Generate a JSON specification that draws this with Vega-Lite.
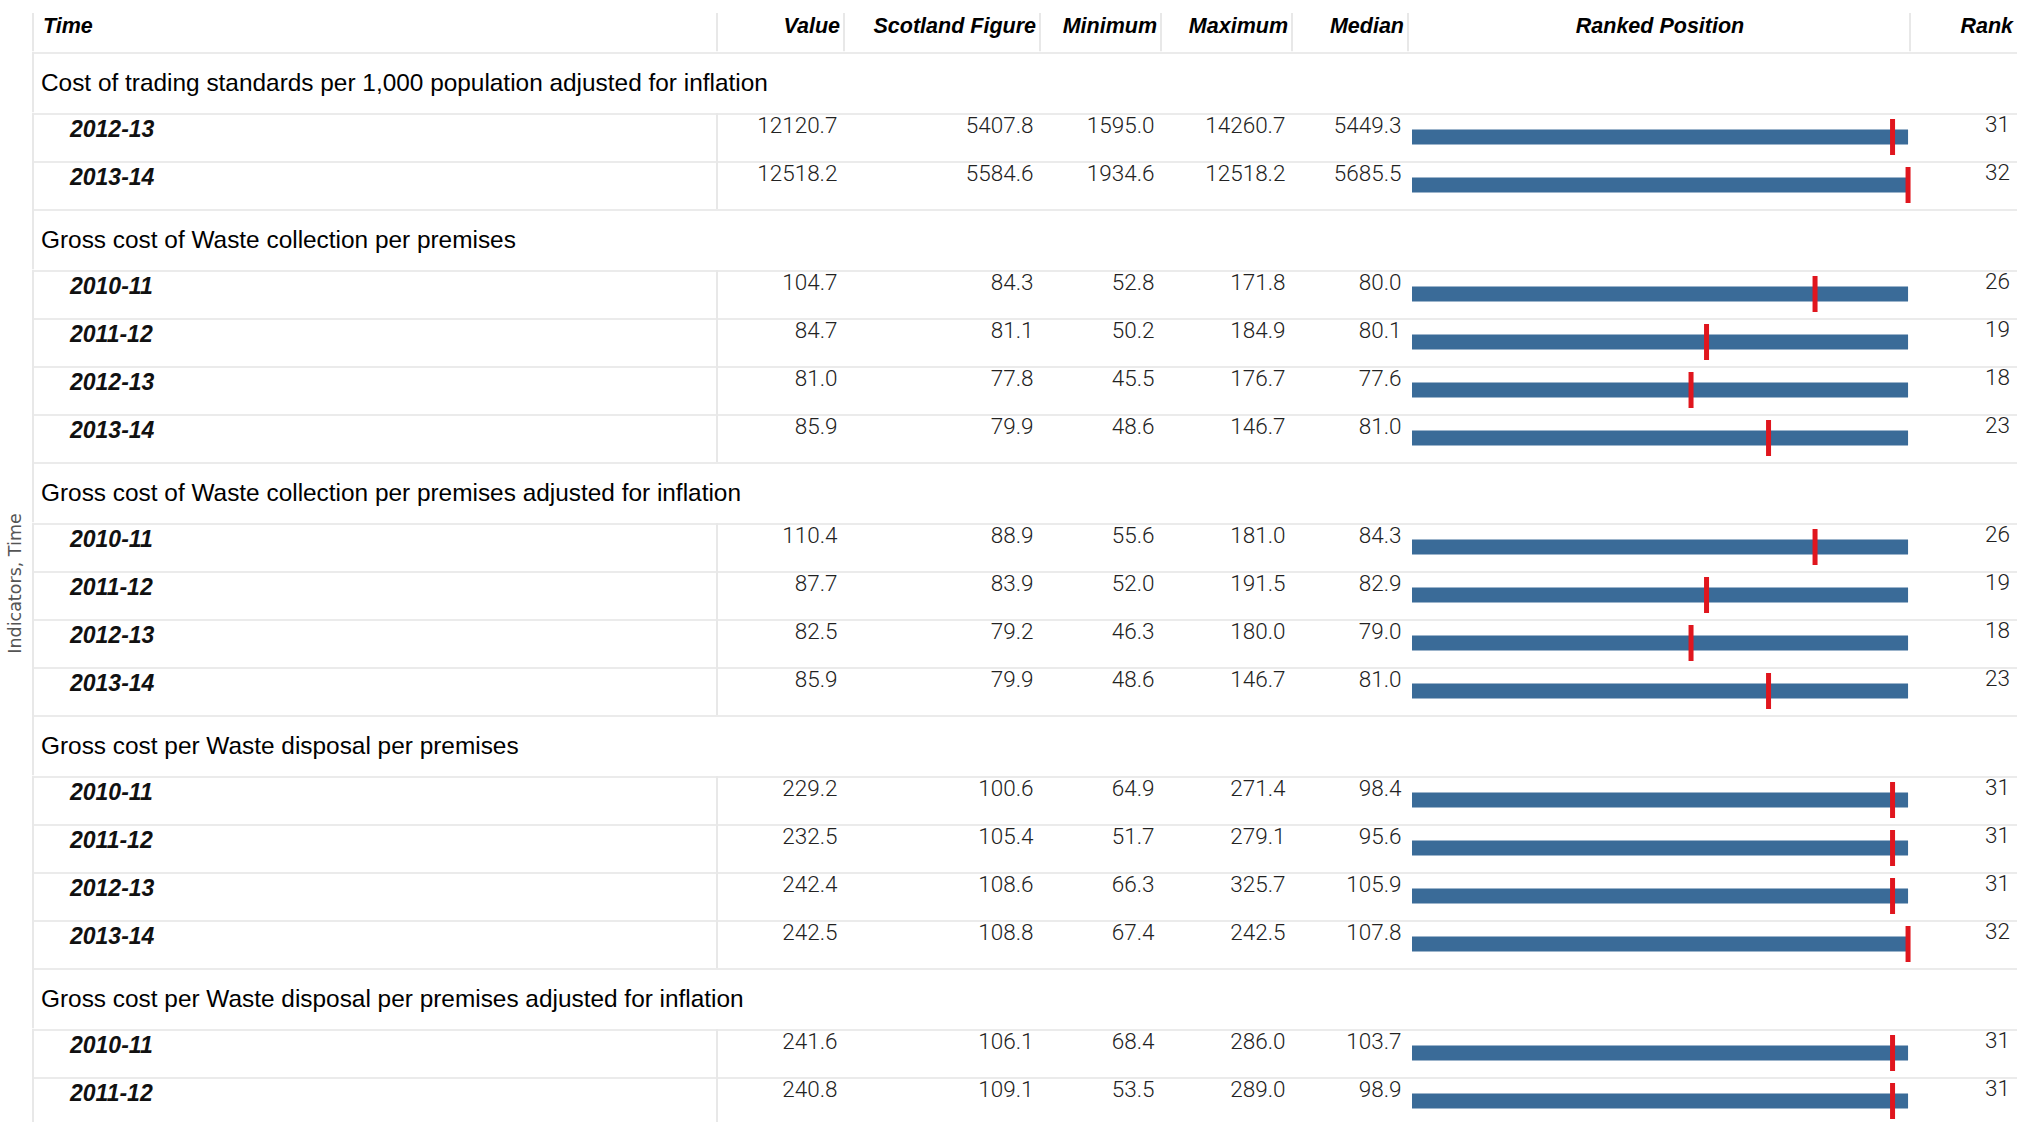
{
"$schema": "https://vega.github.io/schema/vega-lite/v6.json",
"background": "white",
"padding": {"left": 6, "top": 0, "right": 0, "bottom": 0},
"title": {"text": "Indicators, Time", "orient": "left", "anchor": "middle", "font": "DejaVu Sans", "fontSize": 17.5, "fontWeight": "normal", "color": "#555555", "offset": 8, "dx": -21},
"config": {"view": {"stroke": null}},
"data": {"values": [
{"Indicator": "Cost of trading standards per 1,000 population adjusted for inflation", "Time": "2012-13", "Value": 12120.7, "Scotland": 5407.8, "Minimum": 1595.0, "Maximum": 14260.7, "Median": 5449.3, "Rank": 31},
{"Indicator": "Cost of trading standards per 1,000 population adjusted for inflation", "Time": "2013-14", "Value": 12518.2, "Scotland": 5584.6, "Minimum": 1934.6, "Maximum": 12518.2, "Median": 5685.5, "Rank": 32},
{"Indicator": "Gross cost of Waste collection per premises", "Time": "2010-11", "Value": 104.7, "Scotland": 84.3, "Minimum": 52.8, "Maximum": 171.8, "Median": 80.0, "Rank": 26},
{"Indicator": "Gross cost of Waste collection per premises", "Time": "2011-12", "Value": 84.7, "Scotland": 81.1, "Minimum": 50.2, "Maximum": 184.9, "Median": 80.1, "Rank": 19},
{"Indicator": "Gross cost of Waste collection per premises", "Time": "2012-13", "Value": 81.0, "Scotland": 77.8, "Minimum": 45.5, "Maximum": 176.7, "Median": 77.6, "Rank": 18},
{"Indicator": "Gross cost of Waste collection per premises", "Time": "2013-14", "Value": 85.9, "Scotland": 79.9, "Minimum": 48.6, "Maximum": 146.7, "Median": 81.0, "Rank": 23},
{"Indicator": "Gross cost of Waste collection per premises adjusted for inflation", "Time": "2010-11", "Value": 110.4, "Scotland": 88.9, "Minimum": 55.6, "Maximum": 181.0, "Median": 84.3, "Rank": 26},
{"Indicator": "Gross cost of Waste collection per premises adjusted for inflation", "Time": "2011-12", "Value": 87.7, "Scotland": 83.9, "Minimum": 52.0, "Maximum": 191.5, "Median": 82.9, "Rank": 19},
{"Indicator": "Gross cost of Waste collection per premises adjusted for inflation", "Time": "2012-13", "Value": 82.5, "Scotland": 79.2, "Minimum": 46.3, "Maximum": 180.0, "Median": 79.0, "Rank": 18},
{"Indicator": "Gross cost of Waste collection per premises adjusted for inflation", "Time": "2013-14", "Value": 85.9, "Scotland": 79.9, "Minimum": 48.6, "Maximum": 146.7, "Median": 81.0, "Rank": 23},
{"Indicator": "Gross cost per Waste disposal per premises", "Time": "2010-11", "Value": 229.2, "Scotland": 100.6, "Minimum": 64.9, "Maximum": 271.4, "Median": 98.4, "Rank": 31},
{"Indicator": "Gross cost per Waste disposal per premises", "Time": "2011-12", "Value": 232.5, "Scotland": 105.4, "Minimum": 51.7, "Maximum": 279.1, "Median": 95.6, "Rank": 31},
{"Indicator": "Gross cost per Waste disposal per premises", "Time": "2012-13", "Value": 242.4, "Scotland": 108.6, "Minimum": 66.3, "Maximum": 325.7, "Median": 105.9, "Rank": 31},
{"Indicator": "Gross cost per Waste disposal per premises", "Time": "2013-14", "Value": 242.5, "Scotland": 108.8, "Minimum": 67.4, "Maximum": 242.5, "Median": 107.8, "Rank": 32},
{"Indicator": "Gross cost per Waste disposal per premises adjusted for inflation", "Time": "2010-11", "Value": 241.6, "Scotland": 106.1, "Minimum": 68.4, "Maximum": 286.0, "Median": 103.7, "Rank": 31},
{"Indicator": "Gross cost per Waste disposal per premises adjusted for inflation", "Time": "2011-12", "Value": 240.8, "Scotland": 109.1, "Minimum": 53.5, "Maximum": 289.0, "Median": 98.9, "Rank": 31}
]},
"spacing": 0,
"vconcat": [
{"data": {"values": [{"h": 1}]}, "spacing": 0, "bounds": "flush", "hconcat": [
 {"width": 686, "height": 51.5, "layer": [
  {"mark": {"type": "rule", "color": "#e8e8e8", "strokeWidth": 2, "xOffset": 1, "clip": true}, "encoding": {"x": {"datum": 0, "type": "quantitative", "scale": {"domain": [0, 1]}, "axis": null}, "y": {"datum": 0, "type": "quantitative", "scale": {"domain": [0, 1]}, "axis": null}, "y2": {"datum": 0.75}}},
  {"mark": {"type": "rule", "color": "#e8e8e8", "strokeWidth": 2, "xOffset": -1, "clip": true}, "encoding": {"x": {"datum": 1, "type": "quantitative", "scale": {"domain": [0, 1]}, "axis": null}, "y": {"datum": 0, "type": "quantitative", "scale": {"domain": [0, 1]}, "axis": null}, "y2": {"datum": 0.75}}},
  {"mark": {"type": "text", "text": "Time", "align": "left", "baseline": "alphabetic", "dx": 11, "dy": 7.25, "font": "Liberation Sans", "fontSize": 21.5, "fontWeight": "bold", "fontStyle": "italic", "color": "#000000"}, "encoding": {"x": {"datum": 0, "type": "quantitative", "scale": {"domain": [0, 1]}, "axis": null}}}
 ]},
 {"width": 127, "height": 51.5, "layer": [
  {"mark": {"type": "rule", "color": "#e8e8e8", "strokeWidth": 2, "xOffset": -1, "clip": true}, "encoding": {"x": {"datum": 1, "type": "quantitative", "scale": {"domain": [0, 1]}, "axis": null}, "y": {"datum": 0, "type": "quantitative", "scale": {"domain": [0, 1]}, "axis": null}, "y2": {"datum": 0.75}}},
  {"mark": {"type": "text", "text": "Value", "align": "right", "baseline": "alphabetic", "dx": -5, "dy": 7.25, "font": "Liberation Sans", "fontSize": 21.5, "fontWeight": "bold", "fontStyle": "italic", "color": "#000000"}, "encoding": {"x": {"datum": 1, "type": "quantitative", "scale": {"domain": [0, 1]}, "axis": null}}}
 ]},
 {"width": 196, "height": 51.5, "layer": [
  {"mark": {"type": "rule", "color": "#e8e8e8", "strokeWidth": 2, "xOffset": -1, "clip": true}, "encoding": {"x": {"datum": 1, "type": "quantitative", "scale": {"domain": [0, 1]}, "axis": null}, "y": {"datum": 0, "type": "quantitative", "scale": {"domain": [0, 1]}, "axis": null}, "y2": {"datum": 0.75}}},
  {"mark": {"type": "text", "text": "Scotland Figure", "align": "right", "baseline": "alphabetic", "dx": -5, "dy": 7.25, "font": "Liberation Sans", "fontSize": 21.5, "fontWeight": "bold", "fontStyle": "italic", "color": "#000000"}, "encoding": {"x": {"datum": 1, "type": "quantitative", "scale": {"domain": [0, 1]}, "axis": null}}}
 ]},
 {"width": 121, "height": 51.5, "layer": [
  {"mark": {"type": "rule", "color": "#e8e8e8", "strokeWidth": 2, "xOffset": -1, "clip": true}, "encoding": {"x": {"datum": 1, "type": "quantitative", "scale": {"domain": [0, 1]}, "axis": null}, "y": {"datum": 0, "type": "quantitative", "scale": {"domain": [0, 1]}, "axis": null}, "y2": {"datum": 0.75}}},
  {"mark": {"type": "text", "text": "Minimum", "align": "right", "baseline": "alphabetic", "dx": -5, "dy": 7.25, "font": "Liberation Sans", "fontSize": 21.5, "fontWeight": "bold", "fontStyle": "italic", "color": "#000000"}, "encoding": {"x": {"datum": 1, "type": "quantitative", "scale": {"domain": [0, 1]}, "axis": null}}}
 ]},
 {"width": 131, "height": 51.5, "layer": [
  {"mark": {"type": "rule", "color": "#e8e8e8", "strokeWidth": 2, "xOffset": -1, "clip": true}, "encoding": {"x": {"datum": 1, "type": "quantitative", "scale": {"domain": [0, 1]}, "axis": null}, "y": {"datum": 0, "type": "quantitative", "scale": {"domain": [0, 1]}, "axis": null}, "y2": {"datum": 0.75}}},
  {"mark": {"type": "text", "text": "Maximum", "align": "right", "baseline": "alphabetic", "dx": -5, "dy": 7.25, "font": "Liberation Sans", "fontSize": 21.5, "fontWeight": "bold", "fontStyle": "italic", "color": "#000000"}, "encoding": {"x": {"datum": 1, "type": "quantitative", "scale": {"domain": [0, 1]}, "axis": null}}}
 ]},
 {"width": 116, "height": 51.5, "layer": [
  {"mark": {"type": "rule", "color": "#e8e8e8", "strokeWidth": 2, "xOffset": -1, "clip": true}, "encoding": {"x": {"datum": 1, "type": "quantitative", "scale": {"domain": [0, 1]}, "axis": null}, "y": {"datum": 0, "type": "quantitative", "scale": {"domain": [0, 1]}, "axis": null}, "y2": {"datum": 0.75}}},
  {"mark": {"type": "text", "text": "Median", "align": "right", "baseline": "alphabetic", "dx": -5, "dy": 7.25, "font": "Liberation Sans", "fontSize": 21.5, "fontWeight": "bold", "fontStyle": "italic", "color": "#000000"}, "encoding": {"x": {"datum": 1, "type": "quantitative", "scale": {"domain": [0, 1]}, "axis": null}}}
 ]},
 {"width": 502, "height": 51.5, "layer": [
  {"mark": {"type": "rule", "color": "#e8e8e8", "strokeWidth": 2, "xOffset": -1, "clip": true}, "encoding": {"x": {"datum": 1, "type": "quantitative", "scale": {"domain": [0, 1]}, "axis": null}, "y": {"datum": 0, "type": "quantitative", "scale": {"domain": [0, 1]}, "axis": null}, "y2": {"datum": 0.75}}},
  {"mark": {"type": "text", "text": "Ranked Position", "align": "center", "baseline": "alphabetic", "dy": 7.25, "font": "Liberation Sans", "fontSize": 21.5, "fontWeight": "bold", "fontStyle": "italic", "color": "#000000"}, "encoding": {"x": {"datum": 0.5, "type": "quantitative", "scale": {"domain": [0, 1]}, "axis": null}}}
 ]},
 {"width": 106, "height": 51.5, "layer": [
  {"mark": {"type": "text", "text": "Rank", "align": "right", "baseline": "alphabetic", "dx": -4, "dy": 7.25, "font": "Liberation Sans", "fontSize": 21.5, "fontWeight": "bold", "fontStyle": "italic", "color": "#000000"}, "encoding": {"x": {"datum": 1, "type": "quantitative", "scale": {"domain": [0, 1]}, "axis": null}}}
 ]}
]},

{"width": 1985, "height": 60.5, "transform": [{"filter": {"field": "Indicator", "equal": "Cost of trading standards per 1,000 population adjusted for inflation"}}, {"aggregate": [{"op": "count", "as": "n"}], "groupby": ["Indicator"]}], "layer": [
 {"mark": {"type": "rule", "color": "#ebebeb", "strokeWidth": 2, "yOffset": 1, "clip": true}, "encoding": {"y": {"datum": 1, "type": "quantitative", "scale": {"domain": [0, 1]}, "axis": null}}},
 {"mark": {"type": "rule", "color": "#e8e8e8", "strokeWidth": 2, "xOffset": 1, "clip": true}, "encoding": {"x": {"datum": 0, "type": "quantitative", "scale": {"domain": [0, 1]}, "axis": null}}},
 {"mark": {"type": "text", "align": "left", "baseline": "alphabetic", "dx": 9, "dy": 8.5, "font": "Liberation Sans", "fontSize": 24.4, "color": "#000000"}, "encoding": {"x": {"datum": 0, "type": "quantitative", "scale": {"domain": [0, 1]}, "axis": null}, "text": {"field": "Indicator"}}}
]},
{"transform": [{"filter": {"field": "Indicator", "equal": "Cost of trading standards per 1,000 population adjusted for inflation"}}], "spacing": 0, "bounds": "flush", "hconcat": [
 {"width": 686, "height": 96, "layer": [
  {"mark": {"type": "rule", "color": "#ebebeb", "strokeWidth": 2, "yOffset": 1, "clip": true}, "encoding": {"y": {"field": "Time", "type": "nominal", "bandPosition": 0, "scale": {"type": "band", "paddingInner": 0, "paddingOuter": 0}, "axis": null}}},
  {"mark": {"type": "rule", "color": "#e8e8e8", "strokeWidth": 2, "xOffset": 1, "clip": true}, "encoding": {"x": {"datum": 0, "type": "quantitative", "scale": {"domain": [0, 1]}, "axis": null}}},
  {"mark": {"type": "rule", "color": "#e8e8e8", "strokeWidth": 2, "xOffset": -1, "clip": true}, "encoding": {"x": {"datum": 1, "type": "quantitative", "scale": {"domain": [0, 1]}, "axis": null}}},
  {"mark": {"type": "text", "align": "left", "baseline": "alphabetic", "dx": 38, "dy": 24, "font": "Liberation Sans", "fontSize": 23, "fontWeight": "bold", "fontStyle": "italic", "color": "#111111"}, "encoding": {"x": {"datum": 0, "type": "quantitative", "scale": {"domain": [0, 1]}, "axis": null}, "y": {"field": "Time", "type": "nominal", "bandPosition": 0, "scale": {"type": "band", "paddingInner": 0, "paddingOuter": 0}, "axis": null}, "text": {"field": "Time"}}}
 ]},
 {"width": 127, "height": 96, "layer": [
  {"mark": {"type": "rule", "color": "#ebebeb", "strokeWidth": 2, "yOffset": 1, "clip": true}, "encoding": {"y": {"field": "Time", "type": "nominal", "bandPosition": 0, "scale": {"type": "band", "paddingInner": 0, "paddingOuter": 0}, "axis": null}}},
  {"mark": {"type": "text", "align": "right", "baseline": "alphabetic", "dx": -7.5, "dy": 20, "font": "Roboto", "fontWeight": 300, "fontSize": 22.5, "color": "#222222"}, "encoding": {"x": {"datum": 1, "type": "quantitative", "scale": {"domain": [0, 1]}, "axis": null}, "y": {"field": "Time", "type": "nominal", "bandPosition": 0, "scale": {"type": "band", "paddingInner": 0, "paddingOuter": 0}, "axis": null}, "text": {"field": "Value", "type": "quantitative", "format": ".1f"}}}
 ]},
 {"width": 196, "height": 96, "layer": [
  {"mark": {"type": "rule", "color": "#ebebeb", "strokeWidth": 2, "yOffset": 1, "clip": true}, "encoding": {"y": {"field": "Time", "type": "nominal", "bandPosition": 0, "scale": {"type": "band", "paddingInner": 0, "paddingOuter": 0}, "axis": null}}},
  {"mark": {"type": "text", "align": "right", "baseline": "alphabetic", "dx": -7.5, "dy": 20, "font": "Roboto", "fontWeight": 300, "fontSize": 22.5, "color": "#222222"}, "encoding": {"x": {"datum": 1, "type": "quantitative", "scale": {"domain": [0, 1]}, "axis": null}, "y": {"field": "Time", "type": "nominal", "bandPosition": 0, "scale": {"type": "band", "paddingInner": 0, "paddingOuter": 0}, "axis": null}, "text": {"field": "Scotland", "type": "quantitative", "format": ".1f"}}}
 ]},
 {"width": 121, "height": 96, "layer": [
  {"mark": {"type": "rule", "color": "#ebebeb", "strokeWidth": 2, "yOffset": 1, "clip": true}, "encoding": {"y": {"field": "Time", "type": "nominal", "bandPosition": 0, "scale": {"type": "band", "paddingInner": 0, "paddingOuter": 0}, "axis": null}}},
  {"mark": {"type": "text", "align": "right", "baseline": "alphabetic", "dx": -7.5, "dy": 20, "font": "Roboto", "fontWeight": 300, "fontSize": 22.5, "color": "#222222"}, "encoding": {"x": {"datum": 1, "type": "quantitative", "scale": {"domain": [0, 1]}, "axis": null}, "y": {"field": "Time", "type": "nominal", "bandPosition": 0, "scale": {"type": "band", "paddingInner": 0, "paddingOuter": 0}, "axis": null}, "text": {"field": "Minimum", "type": "quantitative", "format": ".1f"}}}
 ]},
 {"width": 131, "height": 96, "layer": [
  {"mark": {"type": "rule", "color": "#ebebeb", "strokeWidth": 2, "yOffset": 1, "clip": true}, "encoding": {"y": {"field": "Time", "type": "nominal", "bandPosition": 0, "scale": {"type": "band", "paddingInner": 0, "paddingOuter": 0}, "axis": null}}},
  {"mark": {"type": "text", "align": "right", "baseline": "alphabetic", "dx": -7.5, "dy": 20, "font": "Roboto", "fontWeight": 300, "fontSize": 22.5, "color": "#222222"}, "encoding": {"x": {"datum": 1, "type": "quantitative", "scale": {"domain": [0, 1]}, "axis": null}, "y": {"field": "Time", "type": "nominal", "bandPosition": 0, "scale": {"type": "band", "paddingInner": 0, "paddingOuter": 0}, "axis": null}, "text": {"field": "Maximum", "type": "quantitative", "format": ".1f"}}}
 ]},
 {"width": 116, "height": 96, "layer": [
  {"mark": {"type": "rule", "color": "#ebebeb", "strokeWidth": 2, "yOffset": 1, "clip": true}, "encoding": {"y": {"field": "Time", "type": "nominal", "bandPosition": 0, "scale": {"type": "band", "paddingInner": 0, "paddingOuter": 0}, "axis": null}}},
  {"mark": {"type": "text", "align": "right", "baseline": "alphabetic", "dx": -7.5, "dy": 20, "font": "Roboto", "fontWeight": 300, "fontSize": 22.5, "color": "#222222"}, "encoding": {"x": {"datum": 1, "type": "quantitative", "scale": {"domain": [0, 1]}, "axis": null}, "y": {"field": "Time", "type": "nominal", "bandPosition": 0, "scale": {"type": "band", "paddingInner": 0, "paddingOuter": 0}, "axis": null}, "text": {"field": "Median", "type": "quantitative", "format": ".1f"}}}
 ]},
 {"width": 502, "height": 96, "layer": [
  {"mark": {"type": "rule", "color": "#ebebeb", "strokeWidth": 2, "yOffset": 1, "clip": true}, "encoding": {"y": {"field": "Time", "type": "nominal", "bandPosition": 0, "scale": {"type": "band", "paddingInner": 0, "paddingOuter": 0}, "axis": null}}},
  {"mark": {"type": "bar", "color": "#3a6b98", "height": 15}, "encoding": {"x": {"datum": 32, "type": "quantitative", "scale": {"domain": [-0.194, 32.19], "nice": false, "zero": false}, "axis": null}, "x2": {"datum": 0}, "y": {"field": "Time", "type": "nominal", "scale": {"type": "band", "paddingInner": 0, "paddingOuter": 0}, "axis": null}}},
  {"mark": {"type": "tick", "orient": "vertical", "color": "#e0161e", "thickness": 5, "size": 36, "opacity": 1}, "encoding": {"x": {"field": "Rank", "type": "quantitative", "scale": {"domain": [-0.194, 32.19], "nice": false, "zero": false}, "axis": null}, "y": {"field": "Time", "type": "nominal", "scale": {"type": "band", "paddingInner": 0, "paddingOuter": 0}, "axis": null}}}
 ]},
 {"width": 106, "height": 96, "layer": [
  {"mark": {"type": "rule", "color": "#ebebeb", "strokeWidth": 2, "yOffset": 1, "clip": true}, "encoding": {"y": {"field": "Time", "type": "nominal", "bandPosition": 0, "scale": {"type": "band", "paddingInner": 0, "paddingOuter": 0}, "axis": null}}},
  {"mark": {"type": "text", "align": "right", "baseline": "alphabetic", "dx": -7, "dy": 19, "font": "Roboto", "fontWeight": 300, "fontSize": 22.5, "color": "#222222"}, "encoding": {"x": {"datum": 1, "type": "quantitative", "scale": {"domain": [0, 1]}, "axis": null}, "y": {"field": "Time", "type": "nominal", "bandPosition": 0, "scale": {"type": "band", "paddingInner": 0, "paddingOuter": 0}, "axis": null}, "text": {"field": "Rank", "type": "quantitative", "format": "d"}}}
 ]}
]},

{"width": 1985, "height": 60.5, "transform": [{"filter": {"field": "Indicator", "equal": "Gross cost of Waste collection per premises"}}, {"aggregate": [{"op": "count", "as": "n"}], "groupby": ["Indicator"]}], "layer": [
 {"mark": {"type": "rule", "color": "#ebebeb", "strokeWidth": 2, "yOffset": 1, "clip": true}, "encoding": {"y": {"datum": 1, "type": "quantitative", "scale": {"domain": [0, 1]}, "axis": null}}},
 {"mark": {"type": "rule", "color": "#e8e8e8", "strokeWidth": 2, "xOffset": 1, "clip": true}, "encoding": {"x": {"datum": 0, "type": "quantitative", "scale": {"domain": [0, 1]}, "axis": null}}},
 {"mark": {"type": "text", "align": "left", "baseline": "alphabetic", "dx": 9, "dy": 8.5, "font": "Liberation Sans", "fontSize": 24.4, "color": "#000000"}, "encoding": {"x": {"datum": 0, "type": "quantitative", "scale": {"domain": [0, 1]}, "axis": null}, "text": {"field": "Indicator"}}}
]},
{"transform": [{"filter": {"field": "Indicator", "equal": "Gross cost of Waste collection per premises"}}], "spacing": 0, "bounds": "flush", "hconcat": [
 {"width": 686, "height": 192, "layer": [
  {"mark": {"type": "rule", "color": "#ebebeb", "strokeWidth": 2, "yOffset": 1, "clip": true}, "encoding": {"y": {"field": "Time", "type": "nominal", "bandPosition": 0, "scale": {"type": "band", "paddingInner": 0, "paddingOuter": 0}, "axis": null}}},
  {"mark": {"type": "rule", "color": "#e8e8e8", "strokeWidth": 2, "xOffset": 1, "clip": true}, "encoding": {"x": {"datum": 0, "type": "quantitative", "scale": {"domain": [0, 1]}, "axis": null}}},
  {"mark": {"type": "rule", "color": "#e8e8e8", "strokeWidth": 2, "xOffset": -1, "clip": true}, "encoding": {"x": {"datum": 1, "type": "quantitative", "scale": {"domain": [0, 1]}, "axis": null}}},
  {"mark": {"type": "text", "align": "left", "baseline": "alphabetic", "dx": 38, "dy": 24, "font": "Liberation Sans", "fontSize": 23, "fontWeight": "bold", "fontStyle": "italic", "color": "#111111"}, "encoding": {"x": {"datum": 0, "type": "quantitative", "scale": {"domain": [0, 1]}, "axis": null}, "y": {"field": "Time", "type": "nominal", "bandPosition": 0, "scale": {"type": "band", "paddingInner": 0, "paddingOuter": 0}, "axis": null}, "text": {"field": "Time"}}}
 ]},
 {"width": 127, "height": 192, "layer": [
  {"mark": {"type": "rule", "color": "#ebebeb", "strokeWidth": 2, "yOffset": 1, "clip": true}, "encoding": {"y": {"field": "Time", "type": "nominal", "bandPosition": 0, "scale": {"type": "band", "paddingInner": 0, "paddingOuter": 0}, "axis": null}}},
  {"mark": {"type": "text", "align": "right", "baseline": "alphabetic", "dx": -7.5, "dy": 20, "font": "Roboto", "fontWeight": 300, "fontSize": 22.5, "color": "#222222"}, "encoding": {"x": {"datum": 1, "type": "quantitative", "scale": {"domain": [0, 1]}, "axis": null}, "y": {"field": "Time", "type": "nominal", "bandPosition": 0, "scale": {"type": "band", "paddingInner": 0, "paddingOuter": 0}, "axis": null}, "text": {"field": "Value", "type": "quantitative", "format": ".1f"}}}
 ]},
 {"width": 196, "height": 192, "layer": [
  {"mark": {"type": "rule", "color": "#ebebeb", "strokeWidth": 2, "yOffset": 1, "clip": true}, "encoding": {"y": {"field": "Time", "type": "nominal", "bandPosition": 0, "scale": {"type": "band", "paddingInner": 0, "paddingOuter": 0}, "axis": null}}},
  {"mark": {"type": "text", "align": "right", "baseline": "alphabetic", "dx": -7.5, "dy": 20, "font": "Roboto", "fontWeight": 300, "fontSize": 22.5, "color": "#222222"}, "encoding": {"x": {"datum": 1, "type": "quantitative", "scale": {"domain": [0, 1]}, "axis": null}, "y": {"field": "Time", "type": "nominal", "bandPosition": 0, "scale": {"type": "band", "paddingInner": 0, "paddingOuter": 0}, "axis": null}, "text": {"field": "Scotland", "type": "quantitative", "format": ".1f"}}}
 ]},
 {"width": 121, "height": 192, "layer": [
  {"mark": {"type": "rule", "color": "#ebebeb", "strokeWidth": 2, "yOffset": 1, "clip": true}, "encoding": {"y": {"field": "Time", "type": "nominal", "bandPosition": 0, "scale": {"type": "band", "paddingInner": 0, "paddingOuter": 0}, "axis": null}}},
  {"mark": {"type": "text", "align": "right", "baseline": "alphabetic", "dx": -7.5, "dy": 20, "font": "Roboto", "fontWeight": 300, "fontSize": 22.5, "color": "#222222"}, "encoding": {"x": {"datum": 1, "type": "quantitative", "scale": {"domain": [0, 1]}, "axis": null}, "y": {"field": "Time", "type": "nominal", "bandPosition": 0, "scale": {"type": "band", "paddingInner": 0, "paddingOuter": 0}, "axis": null}, "text": {"field": "Minimum", "type": "quantitative", "format": ".1f"}}}
 ]},
 {"width": 131, "height": 192, "layer": [
  {"mark": {"type": "rule", "color": "#ebebeb", "strokeWidth": 2, "yOffset": 1, "clip": true}, "encoding": {"y": {"field": "Time", "type": "nominal", "bandPosition": 0, "scale": {"type": "band", "paddingInner": 0, "paddingOuter": 0}, "axis": null}}},
  {"mark": {"type": "text", "align": "right", "baseline": "alphabetic", "dx": -7.5, "dy": 20, "font": "Roboto", "fontWeight": 300, "fontSize": 22.5, "color": "#222222"}, "encoding": {"x": {"datum": 1, "type": "quantitative", "scale": {"domain": [0, 1]}, "axis": null}, "y": {"field": "Time", "type": "nominal", "bandPosition": 0, "scale": {"type": "band", "paddingInner": 0, "paddingOuter": 0}, "axis": null}, "text": {"field": "Maximum", "type": "quantitative", "format": ".1f"}}}
 ]},
 {"width": 116, "height": 192, "layer": [
  {"mark": {"type": "rule", "color": "#ebebeb", "strokeWidth": 2, "yOffset": 1, "clip": true}, "encoding": {"y": {"field": "Time", "type": "nominal", "bandPosition": 0, "scale": {"type": "band", "paddingInner": 0, "paddingOuter": 0}, "axis": null}}},
  {"mark": {"type": "text", "align": "right", "baseline": "alphabetic", "dx": -7.5, "dy": 20, "font": "Roboto", "fontWeight": 300, "fontSize": 22.5, "color": "#222222"}, "encoding": {"x": {"datum": 1, "type": "quantitative", "scale": {"domain": [0, 1]}, "axis": null}, "y": {"field": "Time", "type": "nominal", "bandPosition": 0, "scale": {"type": "band", "paddingInner": 0, "paddingOuter": 0}, "axis": null}, "text": {"field": "Median", "type": "quantitative", "format": ".1f"}}}
 ]},
 {"width": 502, "height": 192, "layer": [
  {"mark": {"type": "rule", "color": "#ebebeb", "strokeWidth": 2, "yOffset": 1, "clip": true}, "encoding": {"y": {"field": "Time", "type": "nominal", "bandPosition": 0, "scale": {"type": "band", "paddingInner": 0, "paddingOuter": 0}, "axis": null}}},
  {"mark": {"type": "bar", "color": "#3a6b98", "height": 15}, "encoding": {"x": {"datum": 32, "type": "quantitative", "scale": {"domain": [-0.194, 32.19], "nice": false, "zero": false}, "axis": null}, "x2": {"datum": 0}, "y": {"field": "Time", "type": "nominal", "scale": {"type": "band", "paddingInner": 0, "paddingOuter": 0}, "axis": null}}},
  {"mark": {"type": "tick", "orient": "vertical", "color": "#e0161e", "thickness": 5, "size": 36, "opacity": 1}, "encoding": {"x": {"field": "Rank", "type": "quantitative", "scale": {"domain": [-0.194, 32.19], "nice": false, "zero": false}, "axis": null}, "y": {"field": "Time", "type": "nominal", "scale": {"type": "band", "paddingInner": 0, "paddingOuter": 0}, "axis": null}}}
 ]},
 {"width": 106, "height": 192, "layer": [
  {"mark": {"type": "rule", "color": "#ebebeb", "strokeWidth": 2, "yOffset": 1, "clip": true}, "encoding": {"y": {"field": "Time", "type": "nominal", "bandPosition": 0, "scale": {"type": "band", "paddingInner": 0, "paddingOuter": 0}, "axis": null}}},
  {"mark": {"type": "text", "align": "right", "baseline": "alphabetic", "dx": -7, "dy": 19, "font": "Roboto", "fontWeight": 300, "fontSize": 22.5, "color": "#222222"}, "encoding": {"x": {"datum": 1, "type": "quantitative", "scale": {"domain": [0, 1]}, "axis": null}, "y": {"field": "Time", "type": "nominal", "bandPosition": 0, "scale": {"type": "band", "paddingInner": 0, "paddingOuter": 0}, "axis": null}, "text": {"field": "Rank", "type": "quantitative", "format": "d"}}}
 ]}
]},

{"width": 1985, "height": 60.5, "transform": [{"filter": {"field": "Indicator", "equal": "Gross cost of Waste collection per premises adjusted for inflation"}}, {"aggregate": [{"op": "count", "as": "n"}], "groupby": ["Indicator"]}], "layer": [
 {"mark": {"type": "rule", "color": "#ebebeb", "strokeWidth": 2, "yOffset": 1, "clip": true}, "encoding": {"y": {"datum": 1, "type": "quantitative", "scale": {"domain": [0, 1]}, "axis": null}}},
 {"mark": {"type": "rule", "color": "#e8e8e8", "strokeWidth": 2, "xOffset": 1, "clip": true}, "encoding": {"x": {"datum": 0, "type": "quantitative", "scale": {"domain": [0, 1]}, "axis": null}}},
 {"mark": {"type": "text", "align": "left", "baseline": "alphabetic", "dx": 9, "dy": 8.5, "font": "Liberation Sans", "fontSize": 24.4, "color": "#000000"}, "encoding": {"x": {"datum": 0, "type": "quantitative", "scale": {"domain": [0, 1]}, "axis": null}, "text": {"field": "Indicator"}}}
]},
{"transform": [{"filter": {"field": "Indicator", "equal": "Gross cost of Waste collection per premises adjusted for inflation"}}], "spacing": 0, "bounds": "flush", "hconcat": [
 {"width": 686, "height": 192, "layer": [
  {"mark": {"type": "rule", "color": "#ebebeb", "strokeWidth": 2, "yOffset": 1, "clip": true}, "encoding": {"y": {"field": "Time", "type": "nominal", "bandPosition": 0, "scale": {"type": "band", "paddingInner": 0, "paddingOuter": 0}, "axis": null}}},
  {"mark": {"type": "rule", "color": "#e8e8e8", "strokeWidth": 2, "xOffset": 1, "clip": true}, "encoding": {"x": {"datum": 0, "type": "quantitative", "scale": {"domain": [0, 1]}, "axis": null}}},
  {"mark": {"type": "rule", "color": "#e8e8e8", "strokeWidth": 2, "xOffset": -1, "clip": true}, "encoding": {"x": {"datum": 1, "type": "quantitative", "scale": {"domain": [0, 1]}, "axis": null}}},
  {"mark": {"type": "text", "align": "left", "baseline": "alphabetic", "dx": 38, "dy": 24, "font": "Liberation Sans", "fontSize": 23, "fontWeight": "bold", "fontStyle": "italic", "color": "#111111"}, "encoding": {"x": {"datum": 0, "type": "quantitative", "scale": {"domain": [0, 1]}, "axis": null}, "y": {"field": "Time", "type": "nominal", "bandPosition": 0, "scale": {"type": "band", "paddingInner": 0, "paddingOuter": 0}, "axis": null}, "text": {"field": "Time"}}}
 ]},
 {"width": 127, "height": 192, "layer": [
  {"mark": {"type": "rule", "color": "#ebebeb", "strokeWidth": 2, "yOffset": 1, "clip": true}, "encoding": {"y": {"field": "Time", "type": "nominal", "bandPosition": 0, "scale": {"type": "band", "paddingInner": 0, "paddingOuter": 0}, "axis": null}}},
  {"mark": {"type": "text", "align": "right", "baseline": "alphabetic", "dx": -7.5, "dy": 20, "font": "Roboto", "fontWeight": 300, "fontSize": 22.5, "color": "#222222"}, "encoding": {"x": {"datum": 1, "type": "quantitative", "scale": {"domain": [0, 1]}, "axis": null}, "y": {"field": "Time", "type": "nominal", "bandPosition": 0, "scale": {"type": "band", "paddingInner": 0, "paddingOuter": 0}, "axis": null}, "text": {"field": "Value", "type": "quantitative", "format": ".1f"}}}
 ]},
 {"width": 196, "height": 192, "layer": [
  {"mark": {"type": "rule", "color": "#ebebeb", "strokeWidth": 2, "yOffset": 1, "clip": true}, "encoding": {"y": {"field": "Time", "type": "nominal", "bandPosition": 0, "scale": {"type": "band", "paddingInner": 0, "paddingOuter": 0}, "axis": null}}},
  {"mark": {"type": "text", "align": "right", "baseline": "alphabetic", "dx": -7.5, "dy": 20, "font": "Roboto", "fontWeight": 300, "fontSize": 22.5, "color": "#222222"}, "encoding": {"x": {"datum": 1, "type": "quantitative", "scale": {"domain": [0, 1]}, "axis": null}, "y": {"field": "Time", "type": "nominal", "bandPosition": 0, "scale": {"type": "band", "paddingInner": 0, "paddingOuter": 0}, "axis": null}, "text": {"field": "Scotland", "type": "quantitative", "format": ".1f"}}}
 ]},
 {"width": 121, "height": 192, "layer": [
  {"mark": {"type": "rule", "color": "#ebebeb", "strokeWidth": 2, "yOffset": 1, "clip": true}, "encoding": {"y": {"field": "Time", "type": "nominal", "bandPosition": 0, "scale": {"type": "band", "paddingInner": 0, "paddingOuter": 0}, "axis": null}}},
  {"mark": {"type": "text", "align": "right", "baseline": "alphabetic", "dx": -7.5, "dy": 20, "font": "Roboto", "fontWeight": 300, "fontSize": 22.5, "color": "#222222"}, "encoding": {"x": {"datum": 1, "type": "quantitative", "scale": {"domain": [0, 1]}, "axis": null}, "y": {"field": "Time", "type": "nominal", "bandPosition": 0, "scale": {"type": "band", "paddingInner": 0, "paddingOuter": 0}, "axis": null}, "text": {"field": "Minimum", "type": "quantitative", "format": ".1f"}}}
 ]},
 {"width": 131, "height": 192, "layer": [
  {"mark": {"type": "rule", "color": "#ebebeb", "strokeWidth": 2, "yOffset": 1, "clip": true}, "encoding": {"y": {"field": "Time", "type": "nominal", "bandPosition": 0, "scale": {"type": "band", "paddingInner": 0, "paddingOuter": 0}, "axis": null}}},
  {"mark": {"type": "text", "align": "right", "baseline": "alphabetic", "dx": -7.5, "dy": 20, "font": "Roboto", "fontWeight": 300, "fontSize": 22.5, "color": "#222222"}, "encoding": {"x": {"datum": 1, "type": "quantitative", "scale": {"domain": [0, 1]}, "axis": null}, "y": {"field": "Time", "type": "nominal", "bandPosition": 0, "scale": {"type": "band", "paddingInner": 0, "paddingOuter": 0}, "axis": null}, "text": {"field": "Maximum", "type": "quantitative", "format": ".1f"}}}
 ]},
 {"width": 116, "height": 192, "layer": [
  {"mark": {"type": "rule", "color": "#ebebeb", "strokeWidth": 2, "yOffset": 1, "clip": true}, "encoding": {"y": {"field": "Time", "type": "nominal", "bandPosition": 0, "scale": {"type": "band", "paddingInner": 0, "paddingOuter": 0}, "axis": null}}},
  {"mark": {"type": "text", "align": "right", "baseline": "alphabetic", "dx": -7.5, "dy": 20, "font": "Roboto", "fontWeight": 300, "fontSize": 22.5, "color": "#222222"}, "encoding": {"x": {"datum": 1, "type": "quantitative", "scale": {"domain": [0, 1]}, "axis": null}, "y": {"field": "Time", "type": "nominal", "bandPosition": 0, "scale": {"type": "band", "paddingInner": 0, "paddingOuter": 0}, "axis": null}, "text": {"field": "Median", "type": "quantitative", "format": ".1f"}}}
 ]},
 {"width": 502, "height": 192, "layer": [
  {"mark": {"type": "rule", "color": "#ebebeb", "strokeWidth": 2, "yOffset": 1, "clip": true}, "encoding": {"y": {"field": "Time", "type": "nominal", "bandPosition": 0, "scale": {"type": "band", "paddingInner": 0, "paddingOuter": 0}, "axis": null}}},
  {"mark": {"type": "bar", "color": "#3a6b98", "height": 15}, "encoding": {"x": {"datum": 32, "type": "quantitative", "scale": {"domain": [-0.194, 32.19], "nice": false, "zero": false}, "axis": null}, "x2": {"datum": 0}, "y": {"field": "Time", "type": "nominal", "scale": {"type": "band", "paddingInner": 0, "paddingOuter": 0}, "axis": null}}},
  {"mark": {"type": "tick", "orient": "vertical", "color": "#e0161e", "thickness": 5, "size": 36, "opacity": 1}, "encoding": {"x": {"field": "Rank", "type": "quantitative", "scale": {"domain": [-0.194, 32.19], "nice": false, "zero": false}, "axis": null}, "y": {"field": "Time", "type": "nominal", "scale": {"type": "band", "paddingInner": 0, "paddingOuter": 0}, "axis": null}}}
 ]},
 {"width": 106, "height": 192, "layer": [
  {"mark": {"type": "rule", "color": "#ebebeb", "strokeWidth": 2, "yOffset": 1, "clip": true}, "encoding": {"y": {"field": "Time", "type": "nominal", "bandPosition": 0, "scale": {"type": "band", "paddingInner": 0, "paddingOuter": 0}, "axis": null}}},
  {"mark": {"type": "text", "align": "right", "baseline": "alphabetic", "dx": -7, "dy": 19, "font": "Roboto", "fontWeight": 300, "fontSize": 22.5, "color": "#222222"}, "encoding": {"x": {"datum": 1, "type": "quantitative", "scale": {"domain": [0, 1]}, "axis": null}, "y": {"field": "Time", "type": "nominal", "bandPosition": 0, "scale": {"type": "band", "paddingInner": 0, "paddingOuter": 0}, "axis": null}, "text": {"field": "Rank", "type": "quantitative", "format": "d"}}}
 ]}
]},

{"width": 1985, "height": 60.5, "transform": [{"filter": {"field": "Indicator", "equal": "Gross cost per Waste disposal per premises"}}, {"aggregate": [{"op": "count", "as": "n"}], "groupby": ["Indicator"]}], "layer": [
 {"mark": {"type": "rule", "color": "#ebebeb", "strokeWidth": 2, "yOffset": 1, "clip": true}, "encoding": {"y": {"datum": 1, "type": "quantitative", "scale": {"domain": [0, 1]}, "axis": null}}},
 {"mark": {"type": "rule", "color": "#e8e8e8", "strokeWidth": 2, "xOffset": 1, "clip": true}, "encoding": {"x": {"datum": 0, "type": "quantitative", "scale": {"domain": [0, 1]}, "axis": null}}},
 {"mark": {"type": "text", "align": "left", "baseline": "alphabetic", "dx": 9, "dy": 8.5, "font": "Liberation Sans", "fontSize": 24.4, "color": "#000000"}, "encoding": {"x": {"datum": 0, "type": "quantitative", "scale": {"domain": [0, 1]}, "axis": null}, "text": {"field": "Indicator"}}}
]},
{"transform": [{"filter": {"field": "Indicator", "equal": "Gross cost per Waste disposal per premises"}}], "spacing": 0, "bounds": "flush", "hconcat": [
 {"width": 686, "height": 192, "layer": [
  {"mark": {"type": "rule", "color": "#ebebeb", "strokeWidth": 2, "yOffset": 1, "clip": true}, "encoding": {"y": {"field": "Time", "type": "nominal", "bandPosition": 0, "scale": {"type": "band", "paddingInner": 0, "paddingOuter": 0}, "axis": null}}},
  {"mark": {"type": "rule", "color": "#e8e8e8", "strokeWidth": 2, "xOffset": 1, "clip": true}, "encoding": {"x": {"datum": 0, "type": "quantitative", "scale": {"domain": [0, 1]}, "axis": null}}},
  {"mark": {"type": "rule", "color": "#e8e8e8", "strokeWidth": 2, "xOffset": -1, "clip": true}, "encoding": {"x": {"datum": 1, "type": "quantitative", "scale": {"domain": [0, 1]}, "axis": null}}},
  {"mark": {"type": "text", "align": "left", "baseline": "alphabetic", "dx": 38, "dy": 24, "font": "Liberation Sans", "fontSize": 23, "fontWeight": "bold", "fontStyle": "italic", "color": "#111111"}, "encoding": {"x": {"datum": 0, "type": "quantitative", "scale": {"domain": [0, 1]}, "axis": null}, "y": {"field": "Time", "type": "nominal", "bandPosition": 0, "scale": {"type": "band", "paddingInner": 0, "paddingOuter": 0}, "axis": null}, "text": {"field": "Time"}}}
 ]},
 {"width": 127, "height": 192, "layer": [
  {"mark": {"type": "rule", "color": "#ebebeb", "strokeWidth": 2, "yOffset": 1, "clip": true}, "encoding": {"y": {"field": "Time", "type": "nominal", "bandPosition": 0, "scale": {"type": "band", "paddingInner": 0, "paddingOuter": 0}, "axis": null}}},
  {"mark": {"type": "text", "align": "right", "baseline": "alphabetic", "dx": -7.5, "dy": 20, "font": "Roboto", "fontWeight": 300, "fontSize": 22.5, "color": "#222222"}, "encoding": {"x": {"datum": 1, "type": "quantitative", "scale": {"domain": [0, 1]}, "axis": null}, "y": {"field": "Time", "type": "nominal", "bandPosition": 0, "scale": {"type": "band", "paddingInner": 0, "paddingOuter": 0}, "axis": null}, "text": {"field": "Value", "type": "quantitative", "format": ".1f"}}}
 ]},
 {"width": 196, "height": 192, "layer": [
  {"mark": {"type": "rule", "color": "#ebebeb", "strokeWidth": 2, "yOffset": 1, "clip": true}, "encoding": {"y": {"field": "Time", "type": "nominal", "bandPosition": 0, "scale": {"type": "band", "paddingInner": 0, "paddingOuter": 0}, "axis": null}}},
  {"mark": {"type": "text", "align": "right", "baseline": "alphabetic", "dx": -7.5, "dy": 20, "font": "Roboto", "fontWeight": 300, "fontSize": 22.5, "color": "#222222"}, "encoding": {"x": {"datum": 1, "type": "quantitative", "scale": {"domain": [0, 1]}, "axis": null}, "y": {"field": "Time", "type": "nominal", "bandPosition": 0, "scale": {"type": "band", "paddingInner": 0, "paddingOuter": 0}, "axis": null}, "text": {"field": "Scotland", "type": "quantitative", "format": ".1f"}}}
 ]},
 {"width": 121, "height": 192, "layer": [
  {"mark": {"type": "rule", "color": "#ebebeb", "strokeWidth": 2, "yOffset": 1, "clip": true}, "encoding": {"y": {"field": "Time", "type": "nominal", "bandPosition": 0, "scale": {"type": "band", "paddingInner": 0, "paddingOuter": 0}, "axis": null}}},
  {"mark": {"type": "text", "align": "right", "baseline": "alphabetic", "dx": -7.5, "dy": 20, "font": "Roboto", "fontWeight": 300, "fontSize": 22.5, "color": "#222222"}, "encoding": {"x": {"datum": 1, "type": "quantitative", "scale": {"domain": [0, 1]}, "axis": null}, "y": {"field": "Time", "type": "nominal", "bandPosition": 0, "scale": {"type": "band", "paddingInner": 0, "paddingOuter": 0}, "axis": null}, "text": {"field": "Minimum", "type": "quantitative", "format": ".1f"}}}
 ]},
 {"width": 131, "height": 192, "layer": [
  {"mark": {"type": "rule", "color": "#ebebeb", "strokeWidth": 2, "yOffset": 1, "clip": true}, "encoding": {"y": {"field": "Time", "type": "nominal", "bandPosition": 0, "scale": {"type": "band", "paddingInner": 0, "paddingOuter": 0}, "axis": null}}},
  {"mark": {"type": "text", "align": "right", "baseline": "alphabetic", "dx": -7.5, "dy": 20, "font": "Roboto", "fontWeight": 300, "fontSize": 22.5, "color": "#222222"}, "encoding": {"x": {"datum": 1, "type": "quantitative", "scale": {"domain": [0, 1]}, "axis": null}, "y": {"field": "Time", "type": "nominal", "bandPosition": 0, "scale": {"type": "band", "paddingInner": 0, "paddingOuter": 0}, "axis": null}, "text": {"field": "Maximum", "type": "quantitative", "format": ".1f"}}}
 ]},
 {"width": 116, "height": 192, "layer": [
  {"mark": {"type": "rule", "color": "#ebebeb", "strokeWidth": 2, "yOffset": 1, "clip": true}, "encoding": {"y": {"field": "Time", "type": "nominal", "bandPosition": 0, "scale": {"type": "band", "paddingInner": 0, "paddingOuter": 0}, "axis": null}}},
  {"mark": {"type": "text", "align": "right", "baseline": "alphabetic", "dx": -7.5, "dy": 20, "font": "Roboto", "fontWeight": 300, "fontSize": 22.5, "color": "#222222"}, "encoding": {"x": {"datum": 1, "type": "quantitative", "scale": {"domain": [0, 1]}, "axis": null}, "y": {"field": "Time", "type": "nominal", "bandPosition": 0, "scale": {"type": "band", "paddingInner": 0, "paddingOuter": 0}, "axis": null}, "text": {"field": "Median", "type": "quantitative", "format": ".1f"}}}
 ]},
 {"width": 502, "height": 192, "layer": [
  {"mark": {"type": "rule", "color": "#ebebeb", "strokeWidth": 2, "yOffset": 1, "clip": true}, "encoding": {"y": {"field": "Time", "type": "nominal", "bandPosition": 0, "scale": {"type": "band", "paddingInner": 0, "paddingOuter": 0}, "axis": null}}},
  {"mark": {"type": "bar", "color": "#3a6b98", "height": 15}, "encoding": {"x": {"datum": 32, "type": "quantitative", "scale": {"domain": [-0.194, 32.19], "nice": false, "zero": false}, "axis": null}, "x2": {"datum": 0}, "y": {"field": "Time", "type": "nominal", "scale": {"type": "band", "paddingInner": 0, "paddingOuter": 0}, "axis": null}}},
  {"mark": {"type": "tick", "orient": "vertical", "color": "#e0161e", "thickness": 5, "size": 36, "opacity": 1}, "encoding": {"x": {"field": "Rank", "type": "quantitative", "scale": {"domain": [-0.194, 32.19], "nice": false, "zero": false}, "axis": null}, "y": {"field": "Time", "type": "nominal", "scale": {"type": "band", "paddingInner": 0, "paddingOuter": 0}, "axis": null}}}
 ]},
 {"width": 106, "height": 192, "layer": [
  {"mark": {"type": "rule", "color": "#ebebeb", "strokeWidth": 2, "yOffset": 1, "clip": true}, "encoding": {"y": {"field": "Time", "type": "nominal", "bandPosition": 0, "scale": {"type": "band", "paddingInner": 0, "paddingOuter": 0}, "axis": null}}},
  {"mark": {"type": "text", "align": "right", "baseline": "alphabetic", "dx": -7, "dy": 19, "font": "Roboto", "fontWeight": 300, "fontSize": 22.5, "color": "#222222"}, "encoding": {"x": {"datum": 1, "type": "quantitative", "scale": {"domain": [0, 1]}, "axis": null}, "y": {"field": "Time", "type": "nominal", "bandPosition": 0, "scale": {"type": "band", "paddingInner": 0, "paddingOuter": 0}, "axis": null}, "text": {"field": "Rank", "type": "quantitative", "format": "d"}}}
 ]}
]},

{"width": 1985, "height": 60.5, "transform": [{"filter": {"field": "Indicator", "equal": "Gross cost per Waste disposal per premises adjusted for inflation"}}, {"aggregate": [{"op": "count", "as": "n"}], "groupby": ["Indicator"]}], "layer": [
 {"mark": {"type": "rule", "color": "#ebebeb", "strokeWidth": 2, "yOffset": 1, "clip": true}, "encoding": {"y": {"datum": 1, "type": "quantitative", "scale": {"domain": [0, 1]}, "axis": null}}},
 {"mark": {"type": "rule", "color": "#e8e8e8", "strokeWidth": 2, "xOffset": 1, "clip": true}, "encoding": {"x": {"datum": 0, "type": "quantitative", "scale": {"domain": [0, 1]}, "axis": null}}},
 {"mark": {"type": "text", "align": "left", "baseline": "alphabetic", "dx": 9, "dy": 8.5, "font": "Liberation Sans", "fontSize": 24.4, "color": "#000000"}, "encoding": {"x": {"datum": 0, "type": "quantitative", "scale": {"domain": [0, 1]}, "axis": null}, "text": {"field": "Indicator"}}}
]},
{"transform": [{"filter": {"field": "Indicator", "equal": "Gross cost per Waste disposal per premises adjusted for inflation"}}], "spacing": 0, "bounds": "flush", "hconcat": [
 {"width": 686, "height": 96, "layer": [
  {"mark": {"type": "rule", "color": "#ebebeb", "strokeWidth": 2, "yOffset": 1, "clip": true}, "encoding": {"y": {"field": "Time", "type": "nominal", "bandPosition": 0, "scale": {"type": "band", "paddingInner": 0, "paddingOuter": 0}, "axis": null}}},
  {"mark": {"type": "rule", "color": "#e8e8e8", "strokeWidth": 2, "xOffset": 1, "clip": true}, "encoding": {"x": {"datum": 0, "type": "quantitative", "scale": {"domain": [0, 1]}, "axis": null}}},
  {"mark": {"type": "rule", "color": "#e8e8e8", "strokeWidth": 2, "xOffset": -1, "clip": true}, "encoding": {"x": {"datum": 1, "type": "quantitative", "scale": {"domain": [0, 1]}, "axis": null}}},
  {"mark": {"type": "text", "align": "left", "baseline": "alphabetic", "dx": 38, "dy": 24, "font": "Liberation Sans", "fontSize": 23, "fontWeight": "bold", "fontStyle": "italic", "color": "#111111"}, "encoding": {"x": {"datum": 0, "type": "quantitative", "scale": {"domain": [0, 1]}, "axis": null}, "y": {"field": "Time", "type": "nominal", "bandPosition": 0, "scale": {"type": "band", "paddingInner": 0, "paddingOuter": 0}, "axis": null}, "text": {"field": "Time"}}}
 ]},
 {"width": 127, "height": 96, "layer": [
  {"mark": {"type": "rule", "color": "#ebebeb", "strokeWidth": 2, "yOffset": 1, "clip": true}, "encoding": {"y": {"field": "Time", "type": "nominal", "bandPosition": 0, "scale": {"type": "band", "paddingInner": 0, "paddingOuter": 0}, "axis": null}}},
  {"mark": {"type": "text", "align": "right", "baseline": "alphabetic", "dx": -7.5, "dy": 20, "font": "Roboto", "fontWeight": 300, "fontSize": 22.5, "color": "#222222"}, "encoding": {"x": {"datum": 1, "type": "quantitative", "scale": {"domain": [0, 1]}, "axis": null}, "y": {"field": "Time", "type": "nominal", "bandPosition": 0, "scale": {"type": "band", "paddingInner": 0, "paddingOuter": 0}, "axis": null}, "text": {"field": "Value", "type": "quantitative", "format": ".1f"}}}
 ]},
 {"width": 196, "height": 96, "layer": [
  {"mark": {"type": "rule", "color": "#ebebeb", "strokeWidth": 2, "yOffset": 1, "clip": true}, "encoding": {"y": {"field": "Time", "type": "nominal", "bandPosition": 0, "scale": {"type": "band", "paddingInner": 0, "paddingOuter": 0}, "axis": null}}},
  {"mark": {"type": "text", "align": "right", "baseline": "alphabetic", "dx": -7.5, "dy": 20, "font": "Roboto", "fontWeight": 300, "fontSize": 22.5, "color": "#222222"}, "encoding": {"x": {"datum": 1, "type": "quantitative", "scale": {"domain": [0, 1]}, "axis": null}, "y": {"field": "Time", "type": "nominal", "bandPosition": 0, "scale": {"type": "band", "paddingInner": 0, "paddingOuter": 0}, "axis": null}, "text": {"field": "Scotland", "type": "quantitative", "format": ".1f"}}}
 ]},
 {"width": 121, "height": 96, "layer": [
  {"mark": {"type": "rule", "color": "#ebebeb", "strokeWidth": 2, "yOffset": 1, "clip": true}, "encoding": {"y": {"field": "Time", "type": "nominal", "bandPosition": 0, "scale": {"type": "band", "paddingInner": 0, "paddingOuter": 0}, "axis": null}}},
  {"mark": {"type": "text", "align": "right", "baseline": "alphabetic", "dx": -7.5, "dy": 20, "font": "Roboto", "fontWeight": 300, "fontSize": 22.5, "color": "#222222"}, "encoding": {"x": {"datum": 1, "type": "quantitative", "scale": {"domain": [0, 1]}, "axis": null}, "y": {"field": "Time", "type": "nominal", "bandPosition": 0, "scale": {"type": "band", "paddingInner": 0, "paddingOuter": 0}, "axis": null}, "text": {"field": "Minimum", "type": "quantitative", "format": ".1f"}}}
 ]},
 {"width": 131, "height": 96, "layer": [
  {"mark": {"type": "rule", "color": "#ebebeb", "strokeWidth": 2, "yOffset": 1, "clip": true}, "encoding": {"y": {"field": "Time", "type": "nominal", "bandPosition": 0, "scale": {"type": "band", "paddingInner": 0, "paddingOuter": 0}, "axis": null}}},
  {"mark": {"type": "text", "align": "right", "baseline": "alphabetic", "dx": -7.5, "dy": 20, "font": "Roboto", "fontWeight": 300, "fontSize": 22.5, "color": "#222222"}, "encoding": {"x": {"datum": 1, "type": "quantitative", "scale": {"domain": [0, 1]}, "axis": null}, "y": {"field": "Time", "type": "nominal", "bandPosition": 0, "scale": {"type": "band", "paddingInner": 0, "paddingOuter": 0}, "axis": null}, "text": {"field": "Maximum", "type": "quantitative", "format": ".1f"}}}
 ]},
 {"width": 116, "height": 96, "layer": [
  {"mark": {"type": "rule", "color": "#ebebeb", "strokeWidth": 2, "yOffset": 1, "clip": true}, "encoding": {"y": {"field": "Time", "type": "nominal", "bandPosition": 0, "scale": {"type": "band", "paddingInner": 0, "paddingOuter": 0}, "axis": null}}},
  {"mark": {"type": "text", "align": "right", "baseline": "alphabetic", "dx": -7.5, "dy": 20, "font": "Roboto", "fontWeight": 300, "fontSize": 22.5, "color": "#222222"}, "encoding": {"x": {"datum": 1, "type": "quantitative", "scale": {"domain": [0, 1]}, "axis": null}, "y": {"field": "Time", "type": "nominal", "bandPosition": 0, "scale": {"type": "band", "paddingInner": 0, "paddingOuter": 0}, "axis": null}, "text": {"field": "Median", "type": "quantitative", "format": ".1f"}}}
 ]},
 {"width": 502, "height": 96, "layer": [
  {"mark": {"type": "rule", "color": "#ebebeb", "strokeWidth": 2, "yOffset": 1, "clip": true}, "encoding": {"y": {"field": "Time", "type": "nominal", "bandPosition": 0, "scale": {"type": "band", "paddingInner": 0, "paddingOuter": 0}, "axis": null}}},
  {"mark": {"type": "bar", "color": "#3a6b98", "height": 15}, "encoding": {"x": {"datum": 32, "type": "quantitative", "scale": {"domain": [-0.194, 32.19], "nice": false, "zero": false}, "axis": null}, "x2": {"datum": 0}, "y": {"field": "Time", "type": "nominal", "scale": {"type": "band", "paddingInner": 0, "paddingOuter": 0}, "axis": null}}},
  {"mark": {"type": "tick", "orient": "vertical", "color": "#e0161e", "thickness": 5, "size": 36, "opacity": 1}, "encoding": {"x": {"field": "Rank", "type": "quantitative", "scale": {"domain": [-0.194, 32.19], "nice": false, "zero": false}, "axis": null}, "y": {"field": "Time", "type": "nominal", "scale": {"type": "band", "paddingInner": 0, "paddingOuter": 0}, "axis": null}}}
 ]},
 {"width": 106, "height": 96, "layer": [
  {"mark": {"type": "rule", "color": "#ebebeb", "strokeWidth": 2, "yOffset": 1, "clip": true}, "encoding": {"y": {"field": "Time", "type": "nominal", "bandPosition": 0, "scale": {"type": "band", "paddingInner": 0, "paddingOuter": 0}, "axis": null}}},
  {"mark": {"type": "text", "align": "right", "baseline": "alphabetic", "dx": -7, "dy": 19, "font": "Roboto", "fontWeight": 300, "fontSize": 22.5, "color": "#222222"}, "encoding": {"x": {"datum": 1, "type": "quantitative", "scale": {"domain": [0, 1]}, "axis": null}, "y": {"field": "Time", "type": "nominal", "bandPosition": 0, "scale": {"type": "band", "paddingInner": 0, "paddingOuter": 0}, "axis": null}, "text": {"field": "Rank", "type": "quantitative", "format": "d"}}}
 ]}
]}
]
}
